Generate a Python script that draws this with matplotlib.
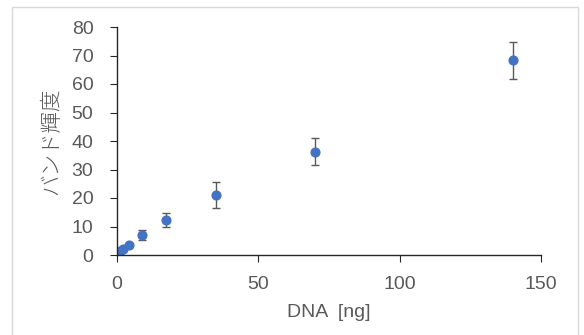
import matplotlib
matplotlib.use("Agg")
import matplotlib.pyplot as plt
from matplotlib.patches import Rectangle

# DNA amount (ng) and band intensity with error
dna_ng = [1.1, 2.2, 4.4, 8.75, 17.5, 35, 70, 140]
intensity = [1.3, 2.0, 3.5, 6.9, 12.2, 21.0, 36.3, 68.3]
intensity_err = [0.3, 0.4, 0.5, 1.7, 2.4, 4.5, 4.7, 6.5]

x_ticks = [0, 50, 100, 150]
y_ticks = [0, 10, 20, 30, 40, 50, 60, 70, 80]

plt.rcParams['font.family'] = ['Liberation Sans', 'Noto Sans CJK JP']

fig = plt.figure(figsize=(5.84, 3.35), dpi=100)
fig.patches.append(Rectangle((12 / 584, -0.01), 566 / 584, 1 - 7 / 335 + 0.01,
                             transform=fig.transFigure, fill=False,
                             edgecolor="#d9d9d9", linewidth=1))
ax = fig.add_axes([117 / 584, 1 - 255 / 335, 424 / 584, 228 / 335])

ax.errorbar(dna_ng, intensity, yerr=intensity_err, fmt="o", color="#4472c4",
            markersize=6.3, ecolor="#595959", elinewidth=1, capsize=3, capthick=1)

ax.set_xlim(0, 150)
ax.set_ylim(0, 80)
ax.set_xticks(x_ticks)
ax.set_yticks(y_ticks)
for s in ["top", "right"]:
    ax.spines[s].set_visible(False)
for s in ["left", "bottom"]:
    ax.spines[s].set_color("#262626")
    ax.spines[s].set_linewidth(1)
ax.tick_params(direction="out", length=5, color="#262626", labelcolor="#595959",
               labelsize=14)
ax.tick_params(axis="y", pad=12)
ax.tick_params(axis="x", pad=10)
ax.set_xlabel("DNA  [ng]", color="#595959", fontsize=14)
ax.set_ylabel("バンド輝度", color="#595959", fontsize=15.5,
              family=["Noto Sans CJK JP"], fontweight="light")
ax.xaxis.set_label_coords(0.5, -0.215)
ax.yaxis.set_label_coords(-0.128, 0.5)

fig.savefig("out.png", dpi=100)
